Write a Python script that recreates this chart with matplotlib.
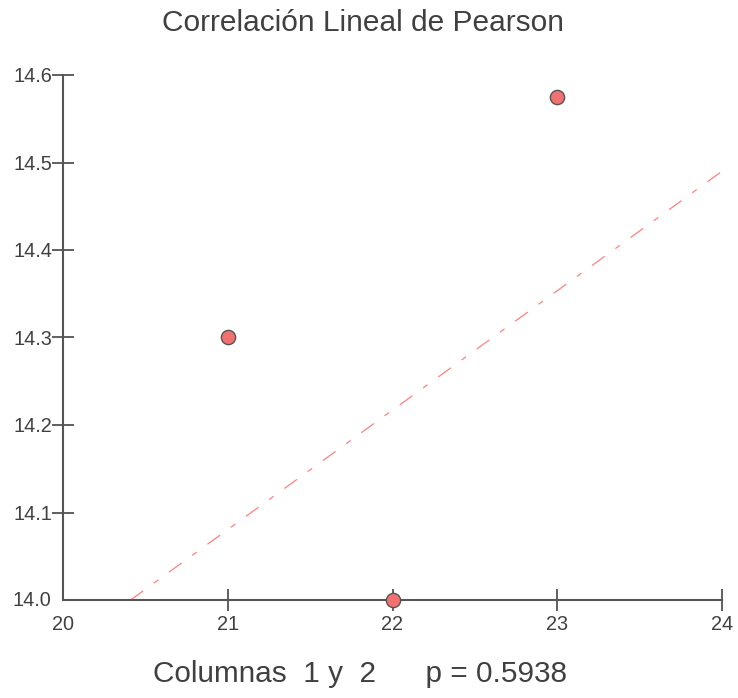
import matplotlib
matplotlib.use("Agg")
import matplotlib.pyplot as plt

plt.rcParams['font.family'] = ['Liberation Sans', 'DejaVu Sans']

# Data
x_vals = [21, 22, 23]
y_vals = [14.30, 14.00, 14.575]
line_x = [20.41, 24.0]
line_y = [14.0, 14.49]
x_ticks = [21, 22, 23, 24]
y_ticks = [14.1, 14.2, 14.3, 14.4, 14.5, 14.6]
title = "Correlación Lineal de Pearson"
footer = "Columnas  1 y  2      p = 0.5938"

W, H = 738, 698
fig = plt.figure(figsize=(W / 100, H / 100), dpi=100)
ax = fig.add_axes([63 / W, 1 - 600 / H, (722 - 63) / W, (600 - 75) / H])

ax.plot(line_x, line_y, color='#ff8080', lw=0.9, linestyle=(0, (12.5, 10.5, 4.5, 10.5)), zorder=2)
ax.scatter(x_vals, y_vals, s=105, color='#f27070', edgecolors='#555555', linewidths=1.0,
           zorder=3, clip_on=False)

ax.set_xlim(20, 24)
ax.set_ylim(14.0, 14.6)
for s in ['top', 'right']:
    ax.spines[s].set_visible(False)
for s in ['left', 'bottom']:
    ax.spines[s].set_color('#555555')
    ax.spines[s].set_linewidth(1.5)

ax.set_xticks(x_ticks)
ax.set_yticks(y_ticks)
ax.set_xticks([20], minor=True)
ax.set_xticklabels([str(v) for v in x_ticks])
ax.set_yticklabels([f"{v:.1f}" for v in y_ticks])
ax.tick_params(axis='both', which='major', direction='inout', length=15.5, width=1.2,
               color='#444444', labelcolor='#404040', labelsize=14.3)
ax.tick_params(axis='x', which='major', pad=3.2)
ax.tick_params(axis='y', which='major', pad=0)
ax.tick_params(axis='x', which='minor', length=0, labelsize=14.3, labelcolor='#404040', pad=10.9)
ax.set_xticklabels(['20'], minor=True)
# label for 14.0
ax.text(-0.018, 0.0, "14.0", transform=ax.transAxes, ha='right', va='center',
        fontsize=14.3, color='#404040')

fig.text(363 / W, 1 - 23 / H, title, ha='center', va='center', fontsize=21.5, color='#404040')
fig.text(360 / W, 1 - 674 / H, footer, ha='center', va='center', fontsize=21.4, color='#404040')

fig.savefig("out.png", dpi=100, facecolor='white')
